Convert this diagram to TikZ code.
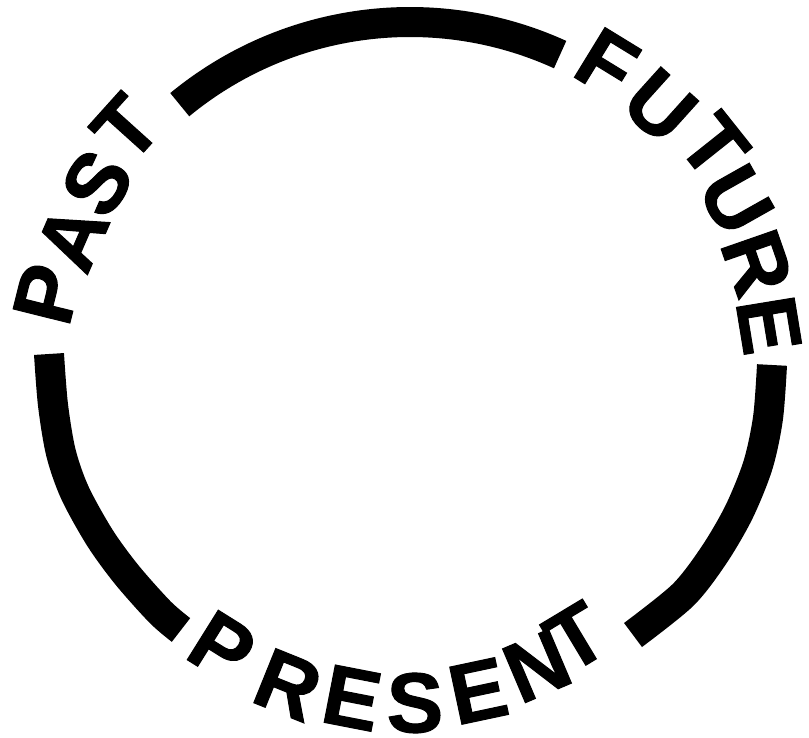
\documentclass[tikz,border=0pt]{standalone}
\usepackage{fontspec}
\setmainfont{Liberation Sans}
\newfontfamily\heavyfont{Liberation Sans Bold}[FakeBold=1.2]
\begin{document}
\begin{tikzpicture}[x=1pt,y=1pt,
  band/.style={line width=30pt, line cap=butt},
  letter/.style={inner sep=0pt, font=\heavyfont\fontsize{85}{85}\selectfont}]
\useasboundingbox (0,0) rectangle (809,737);
\coordinate (c) at (410,353);
% top arc
\draw[band] ([shift={(129.5:362pt)}]c) arc[start angle=129.5, end angle=65.5, radius=362pt];
% left arc
\draw[band] plot[smooth] coordinates {(49,383) (53,332) (61,284) (75,244) (100,199) (127,162) (160,125) (181,107)};
% right arc
\draw[band] plot[smooth] coordinates {(772,372) (768,319) (758,272) (739,225) (714,182) (683,142) (633,102)};
% PAST
\node[letter, rotate=76]   (pa1) at (47,443) {P};
\node[letter, rotate=66.5] (pa2) at (72,500) {A};
\node[letter, rotate=57.3] (pa3) at (97,554) {S};
\node[letter, rotate=48]   (pa4) at (126,609) {T};
% FUTURE
\node[letter, rotate=-31.5] (fu1) at (607,674) {F};
\node[letter, rotate=-42]   (fu2) at (660,631) {U};
\node[letter, rotate=-51.5] (fu3) at (714,591) {T};
\node[letter, rotate=-60.6] (fu4) at (736,537) {U};
\node[letter, rotate=-70.8] (fu5) at (757,474) {R};
\node[letter, rotate=-80.7] (fu6) at (769,412) {E};
% PRESENT
\node[letter, rotate=-32] (pr1) at (222,90) {P};
\node[letter, rotate=-22] (pr2) at (288,52) {R};
\node[letter, rotate=-11] (pr3) at (352,39) {E};
\node[letter, rotate=0]   (pr4) at (415,34) {S};
\node[letter, rotate=12]  (pr5) at (478,46) {E};
\node[letter, rotate=23]  (pr6) at (537,71) {N};
\node[letter, rotate=31]  (pr7) at (576,100) {T};
\end{tikzpicture}
\end{document}
